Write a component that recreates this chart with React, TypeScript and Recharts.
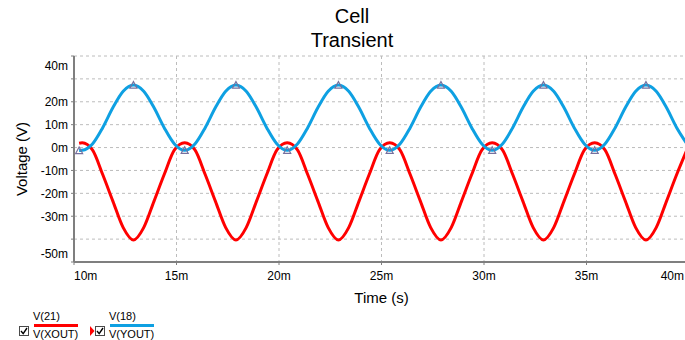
import React from 'react';
import { LineChart, Line, XAxis, YAxis, CartesianGrid, Legend } from 'recharts';

// time in ms, voltages in mV
const timeMs = [
  10.25, 10.4, 10.9, 11.4, 11.9, 12.4, 12.9, 13.4, 13.9, 14.4, 14.9,
  15.4, 15.9, 16.4, 16.9, 17.4, 17.9, 18.4, 18.9, 19.4, 19.9,
  20.4, 20.9, 21.4, 21.9, 22.4, 22.9, 23.4, 23.9, 24.4, 24.9,
  25.4, 25.9, 26.4, 26.9, 27.4, 27.9, 28.4, 28.9, 29.4, 29.9,
  30.4, 30.9, 31.4, 31.9, 32.4, 32.9, 33.4, 33.9, 34.4, 34.9,
  35.4, 35.9, 36.4, 36.9, 37.4, 37.9, 38.4, 38.9, 39.4, 39.9,
];

const vXout = [
  1.9, 2.1, -1.0, -11.8, -23.5, -35.0, -40.4, -35.0, -23.5, -11.8, -1.0,
  2.1, -1.0, -11.8, -23.5, -35.0, -40.4, -35.0, -23.5, -11.8, -1.0,
  2.1, -1.0, -11.8, -23.5, -35.0, -40.4, -35.0, -23.5, -11.8, -1.0,
  2.1, -1.0, -11.8, -23.5, -35.0, -40.4, -35.0, -23.5, -11.8, -1.0,
  2.1, -1.0, -11.8, -23.5, -35.0, -40.4, -35.0, -23.5, -11.8, -1.0,
  2.1, -1.0, -11.8, -23.5, -35.0, -40.4, -35.0, -23.5, -11.8, -1.0,
];

const vYout = [
  -1.3, -1.2, 1.6, 8.7, 17.5, 24.6, 27.3, 24.6, 17.5, 8.7, 1.6,
  -1.2, 1.6, 8.7, 17.5, 24.6, 27.3, 24.6, 17.5, 8.7, 1.6,
  -1.2, 1.6, 8.7, 17.5, 24.6, 27.3, 24.6, 17.5, 8.7, 1.6,
  -1.2, 1.6, 8.7, 17.5, 24.6, 27.3, 24.6, 17.5, 8.7, 1.6,
  -1.2, 1.6, 8.7, 17.5, 24.6, 27.3, 24.6, 17.5, 8.7, 1.6,
  -1.2, 1.6, 8.7, 17.5, 24.6, 27.3, 24.6, 17.5, 8.7, 1.6,
];

// cursor markers drawn on V(YOUT)
const markerTimes = [10.25, 12.9, 15.4, 17.9, 20.4, 22.9, 25.4, 27.9, 30.4, 32.9, 35.4, 37.9];

const xTicks = [10, 15, 20, 25, 30, 35, 40];
const yTicks = [-50, -40, -30, -20, -10, 0, 10, 20, 30, 40];
const hiddenYLabels = [30, -40];

const data = timeMs.map((t, i) => ({ t, xout: vXout[i], yout: vYout[i] }));

const FONT = '"Liberation Sans", Arial, Helvetica, sans-serif';
const AXIS_GREY = '#7f7f7f';
const GRID_GREY = '#bcbcbc';
const RED = '#ff0000';
const BLUE = '#0ea0e2';
const MARKER = '#76709e';

const XTick = (props: any) => {
  const { x, y, payload } = props;
  const v = payload.value;
  let anchor = 'middle';
  let dx = 0;
  if (v === xTicks[0]) anchor = 'start';
  if (v === xTicks[xTicks.length - 1]) {
    // last label sits at the right edge of the window
    anchor = 'end';
    dx = -5;
  }
  return (
    <text x={x} y={y} dx={dx} dy={13} textAnchor={anchor} fontSize={12} fontFamily={FONT} fill="#000">
      {v}m
    </text>
  );
};

const YTick = (props: any) => {
  const { x, y, payload } = props;
  const v = payload.value;
  if (hiddenYLabels.includes(v)) return <g />;
  let dy = 4.3;
  // end labels are pushed inside the plot
  if (v === yTicks[yTicks.length - 1]) dy = 13.5;
  if (v === yTicks[0]) dy = -4;
  return (
    <text x={x} y={y} dy={dy} textAnchor="end" fontSize={12} fontFamily={FONT} fill="#000">
      {v}m
    </text>
  );
};

const MarkerDot = (props: any) => {
  const { cx, cy, payload, index } = props;
  if (!markerTimes.includes(payload.t)) return <g key={`m-${index}`} />;
  return (
    <polygon
      key={`m-${index}`}
      points={`${cx - 3.5},${cy + 3} ${cx + 3.5},${cy + 3} ${cx},${cy - 3.5}`}
      fill="none"
      stroke={MARKER}
      strokeWidth={1.2}
    />
  );
};

const CheckBox = ({ x, y }: { x: number; y: number }) => (
  <g>
    <rect x={x + 0.5} y={y + 0.5} width={9} height={9} fill="#fff" stroke="#4a4a4a" strokeWidth={1} />
    <path d={`M${x + 2} ${y + 5} L${x + 4.2} ${y + 7.6} L${x + 8} ${y + 2}`} fill="none" stroke="#000" strokeWidth={1.4} />
  </g>
);

const LegendBox = () => (
  <svg width={170} height={40} style={{ display: 'block' }}>
    <CheckBox x={19} y={26} />
    <text x={33} y={20} fontSize={11} fontFamily={FONT} fill="#000">V(21)</text>
    <line x1={34} x2={78} y1={25.5} y2={25.5} stroke={RED} strokeWidth={3} />
    <text x={33} y={38} fontSize={11} fontFamily={FONT} fill="#000">V(XOUT)</text>

    <polygon points="90,26 94.5,31 90,36" fill={RED} />
    <CheckBox x={95} y={26} />
    <text x={109} y={20} fontSize={11} fontFamily={FONT} fill="#000">V(18)</text>
    <line x1={110} x2={154} y1={25.5} y2={25.5} stroke={BLUE} strokeWidth={3} />
    <text x={109} y={38} fontSize={11} fontFamily={FONT} fill="#000">V(YOUT)</text>
  </svg>
);

export default function App() {
  return (
    <div style={{ position: 'relative', width: 685, height: 340, overflow: 'hidden', background: '#fff' }}>
      <style>{'body { margin: 0; }'}</style>
      <LineChart width={700} height={340} data={data} margin={{ top: 56, right: 11, bottom: 48, left: 14 }}>
        <CartesianGrid stroke={GRID_GREY} strokeDasharray="3 3" />
        <XAxis
          dataKey="t"
          type="number"
          domain={[10, 40]}
          ticks={xTicks}
          interval={0}
          height={30}
          tickSize={3}
          tickMargin={2}
          tick={<XTick />}
          axisLine={{ stroke: AXIS_GREY, strokeWidth: 2 }}
          tickLine={{ stroke: AXIS_GREY, strokeWidth: 1 }}
          label={{
            value: 'Time (s)',
            position: 'bottom',
            offset: 0,
            style: { fontSize: 15, fontFamily: FONT, fill: '#000' },
          }}
        />
        <YAxis
          type="number"
          domain={[-50, 40]}
          ticks={yTicks}
          interval={0}
          width={60}
          tickSize={3}
          tickMargin={3}
          tick={<YTick />}
          axisLine={{ stroke: AXIS_GREY, strokeWidth: 2 }}
          tickLine={{ stroke: AXIS_GREY, strokeWidth: 1 }}
          label={{
            value: 'Voltage (V)',
            angle: -90,
            position: 'insideLeft',
            offset: 8,
            style: { textAnchor: 'middle', fontSize: 15, fontFamily: FONT, fill: '#000' },
          }}
        />
        <Legend
          layout="horizontal"
          verticalAlign="middle"
          align="center"
          wrapperStyle={{ left: 0, top: 300, width: 170, height: 40 }}
          content={() => <LegendBox />}
        />
        <Line
          type="monotone"
          dataKey="xout"
          name="V(XOUT)"
          stroke={RED}
          strokeWidth={3}
          dot={false}
          activeDot={false}
          isAnimationActive={false}
        />
        <Line
          type="monotone"
          dataKey="yout"
          name="V(YOUT)"
          stroke={BLUE}
          strokeWidth={3}
          dot={(p: any) => <MarkerDot {...p} />}
          activeDot={false}
          isAnimationActive={false}
        />
      </LineChart>
      <svg width={685} height={60} style={{ position: 'absolute', left: 0, top: 0, pointerEvents: 'none' }}>
        <text x={352} y={23} textAnchor="middle" fontSize={20} fontFamily={FONT} fill="#000">Cell</text>
        <text x={352} y={47} textAnchor="middle" fontSize={20} fontFamily={FONT} fill="#000">Transient</text>
      </svg>
    </div>
  );
}
